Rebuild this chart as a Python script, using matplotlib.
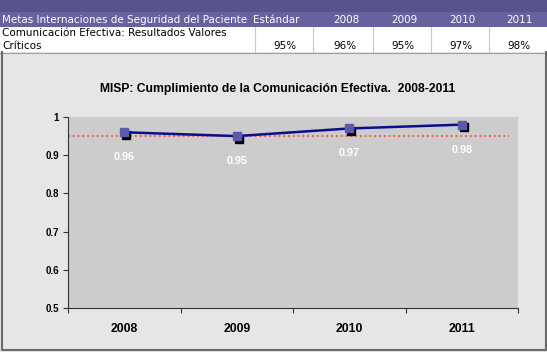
import matplotlib.pyplot as plt
from matplotlib.patches import Rectangle
from matplotlib.ticker import FuncFormatter
from matplotlib.transforms import offset_copy

# Data
years = ['2008', '2009', '2010', '2011']
cumplimiento = [0.96, 0.95, 0.97, 0.98]
estandar = 0.95
header_cols = ['Metas Internaciones de Seguridad del Paciente', 'Estándar', '2008', '2009', '2010', '2011']
row_label = ['Comunicación Efectiva: Resultados Valores', 'Críticos']
title = 'MISP: Cumplimiento de la Comunicación Efectiva.  2008-2011'

W, H = 547, 352
HEADER_BG = '#66619f'
LINE_COLOR = '#0c0c8e'
MARKER_COLOR = '#5a5aaa'
FRAME = '#6a6a6a'
col_edges = [0, 255, 313, 373, 431, 489, 547]


def fx(x):
    return x / W


def fy(y):
    return 1 - y / H


def rect(x0, y0, x1, y1, **kw):
    fig.add_artist(Rectangle((fx(x0), fy(y1)), (x1 - x0) / W, (y1 - y0) / H,
                             transform=fig.transFigure, zorder=-1, **kw))


def fline(xs, ys, **kw):
    fig.add_artist(plt.Line2D([fx(v) for v in xs], [fy(v) for v in ys],
                              transform=fig.transFigure, **kw))


fig = plt.figure(figsize=(W / 100, H / 100), dpi=100, facecolor='white')

# Table header / row
rect(0, 0, W, 12, facecolor='#58528d', edgecolor='none')
rect(0, 12, W, 27, facecolor=HEADER_BG, edgecolor='none')
rect(0, 27, W, 52, facecolor='white', edgecolor='none')
for x in col_edges[1:-1]:
    fline([x, x], [27, 52], color='#c8c8c8', lw=0.8)

hdr_font = dict(family='DejaVu Sans', fontsize=7.5, va='center')
fig.text(fx(2), fy(20), header_cols[0], color='white', ha='left', **hdr_font)
for i, label in enumerate(header_cols[1:]):
    fig.text(fx(col_edges[i + 2] - 14), fy(20), label, color='white', ha='right', **hdr_font)

fig.text(fx(2), fy(33), row_label[0], color='black', ha='left', **hdr_font)
fig.text(fx(2), fy(46), row_label[1], color='black', ha='left', **hdr_font)
row_values = [estandar] + cumplimiento
for i, v in enumerate(row_values):
    fig.text(fx(col_edges[i + 2] - 17), fy(46), f'{v * 100:.0f}%', color='black', ha='right', **hdr_font)

# Chart area background with frame (left, bottom, right)
rect(0, 52, W, H, facecolor='#e6e6e6', edgecolor='none')
fline([0, W], [52.5, 52.5], color='#a0a0a0', lw=0.8)
fline([2, 2, 545.5, 545.5], [52, 350, 350, 52], color=FRAME, lw=1.5)

fig.text(fx(278), fy(89), title, ha='center', va='center', fontsize=8.7,
         fontweight='bold', family='Liberation Sans')

ax = fig.add_axes([fx(68), fy(308), 450 / W, 191 / H])
ax.set_facecolor('#cccccc')

x = list(range(len(years)))
ax.axhline(estandar, xmin=0, xmax=0.98, color='#ff4b3a', ls=':', lw=1.3, zorder=2)
shadow = offset_copy(ax.transData, fig=fig, x=1.5, y=-1.8, units='points')
ax.plot(x, cumplimiento, ls='none', marker='s', ms=6, color='black', transform=shadow, zorder=3)
ax.plot(x, cumplimiento, color=LINE_COLOR, lw=1.8, marker='s', ms=6,
        mfc=MARKER_COLOR, mec=MARKER_COLOR, zorder=4)

for i, v in enumerate(cumplimiento):
    ax.annotate(f'{v:.2f}', (i, v), xytext=(0, -18), textcoords='offset points',
                ha='center', va='center', color='white', fontweight='bold',
                fontsize=7.8, family='Liberation Sans')

ax.set_xlim(-0.5, len(years) - 0.5)
ax.set_ylim(0.5, 1)
ax.set_xticks(x)
ax.set_xticklabels(years, fontsize=8.8, fontweight='bold', family='Liberation Sans')
ax.set_xticks([i - 0.5 for i in range(len(years) + 1)], minor=True)
ax.tick_params(axis='x', which='major', length=0, pad=11)
ax.tick_params(axis='x', which='minor', length=3.5, width=0.8, color='#333333')
ax.set_yticks([0.5, 0.6, 0.7, 0.8, 0.9, 1.0])
ax.yaxis.set_major_formatter(FuncFormatter(lambda v, _: f'{v:g}'))
for lbl in ax.get_yticklabels():
    lbl.set_fontweight('bold')
    lbl.set_family('Liberation Sans')
ax.tick_params(axis='y', length=3.5, width=0.8, color='#333333', labelsize=7, pad=3)

ax.spines['top'].set_visible(False)
ax.spines['right'].set_visible(False)
ax.spines['left'].set_color('#333333')
ax.spines['bottom'].set_color('#333333')

fig.savefig('out.png', dpi=100, facecolor=fig.get_facecolor())
